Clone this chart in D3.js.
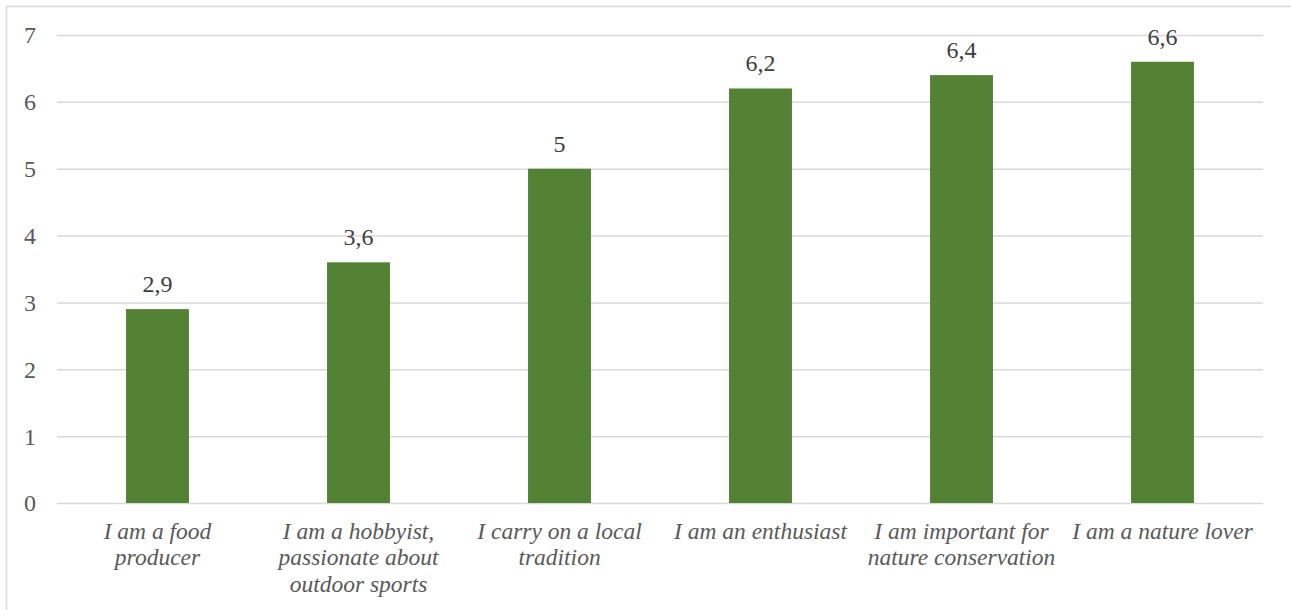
<!DOCTYPE html>
<html>
<head>
<meta charset="utf-8">
<script src="https://cdn.jsdelivr.net/npm/d3@7"></script>
</head>
<body style="margin:0">
<svg id="chart" width="1291" height="610" style="display:block"></svg>
<script>
const categories = [
  ["I am a food", "producer"],
  ["I am a hobbyist,", "passionate about", "outdoor sports"],
  ["I carry on a local", "tradition"],
  ["I am an enthusiast"],
  ["I am important for", "nature conservation"],
  ["I am a nature lover"]
];
const values = [2.9, 3.6, 5, 6.2, 6.4, 6.6];
const valueLabels = ["2,9", "3,6", "5", "6,2", "6,4", "6,6"];
const yTicks = [0, 1, 2, 3, 4, 5, 6, 7];

const W = 1291, H = 610;
const margin = { top: 35, right: 28, bottom: 107, left: 57 };
const svg = d3.select("#chart");
const FONT = "'Liberation Serif'";

// font warm-up (invisible), makes the serif faces resolve before the photo
const warm = ["'Liberation Serif'", "Liberation Serif", "serif", "sans-serif", "'DejaVu Serif'", "'Noto Serif'"];
svg.selectAll("text.warm").data(warm).join("text").attr("class", "warm")
  .attr("x", 80).attr("y", (d, i) => 60 + i * 26).attr("font-size", 24)
  .attr("fill-opacity", 0)
  .attr("font-family", d => d).text("2,9 I a");
svg.selectAll("text.warm2").data(warm).join("text").attr("class", "warm2")
  .attr("x", 200).attr("y", (d, i) => 60 + i * 26).attr("font-size", 24)
  .attr("fill-opacity", 0)
  .style("font-family", d => d).attr("font-style", "italic").text("2,9 I a");

// outer border
svg.append("rect")
  .attr("x", 6.5).attr("y", 6.5)
  .attr("width", W).attr("height", H)
  .attr("fill", "none").attr("stroke", "#d9d9d9").attr("stroke-width", 1.5);

const x = d3.scaleBand()
  .domain(d3.range(values.length))
  .range([margin.left, W - margin.right])
  .paddingInner(0.687).paddingOuter(0.3435);

const y = d3.scaleLinear().domain([0, 7]).range([H - margin.bottom, margin.top]);

// gridlines + tick labels
const yAxis = d3.axisLeft(y).tickValues(yTicks).tickSize(-(W - margin.left - margin.right)).tickPadding(21).tickFormat(d3.format("d"));
const gy = svg.append("g").attr("transform", `translate(${margin.left},0)`).call(yAxis);
gy.select(".domain").remove();
gy.attr("font-family", FONT).attr("font-size", 24);
gy.selectAll(".tick line").attr("stroke", "#d9d9d9").attr("stroke-width", 1.5);
gy.selectAll(".tick text")
  .attr("fill", "#595959").attr("font-family", FONT).attr("font-size", 24).attr("dy", "0.33em");

// bars
svg.append("g").selectAll("rect").data(values).join("rect")
  .attr("x", (d, i) => x(i))
  .attr("y", d => y(d))
  .attr("width", x.bandwidth())
  .attr("height", d => y(0) - y(d))
  .attr("fill", "#548235");

// value labels
svg.append("g").selectAll("text").data(values).join("text")
  .attr("x", (d, i) => x(i) + x.bandwidth() / 2)
  .attr("y", d => y(d) - 17)
  .attr("text-anchor", "middle")
  .attr("font-family", FONT).attr("font-size", 24)
  .attr("fill", "#404040")
  .text((d, i) => valueLabels[i]);

// category labels
const xAxis = d3.axisBottom(x).tickSize(0).tickFormat("");
const gx = svg.append("g").attr("transform", `translate(0,${y(0)})`).call(xAxis);
gx.select(".domain").remove();
gx.attr("font-family", FONT).attr("font-size", 23.5);
gx.selectAll(".tick").each(function(d) {
  const t = d3.select(this).append("text")
    .attr("text-anchor", "middle")
    .attr("font-family", FONT).attr("font-size", 23.5)
    .attr("font-style", "italic")
    .attr("fill", "#595959");
  categories[d].forEach((line, k) => {
    t.append("tspan").attr("x", 0).attr("y", 35.5 + k * 26.5).text(line);
  });
});
</script>
</body>
</html>
